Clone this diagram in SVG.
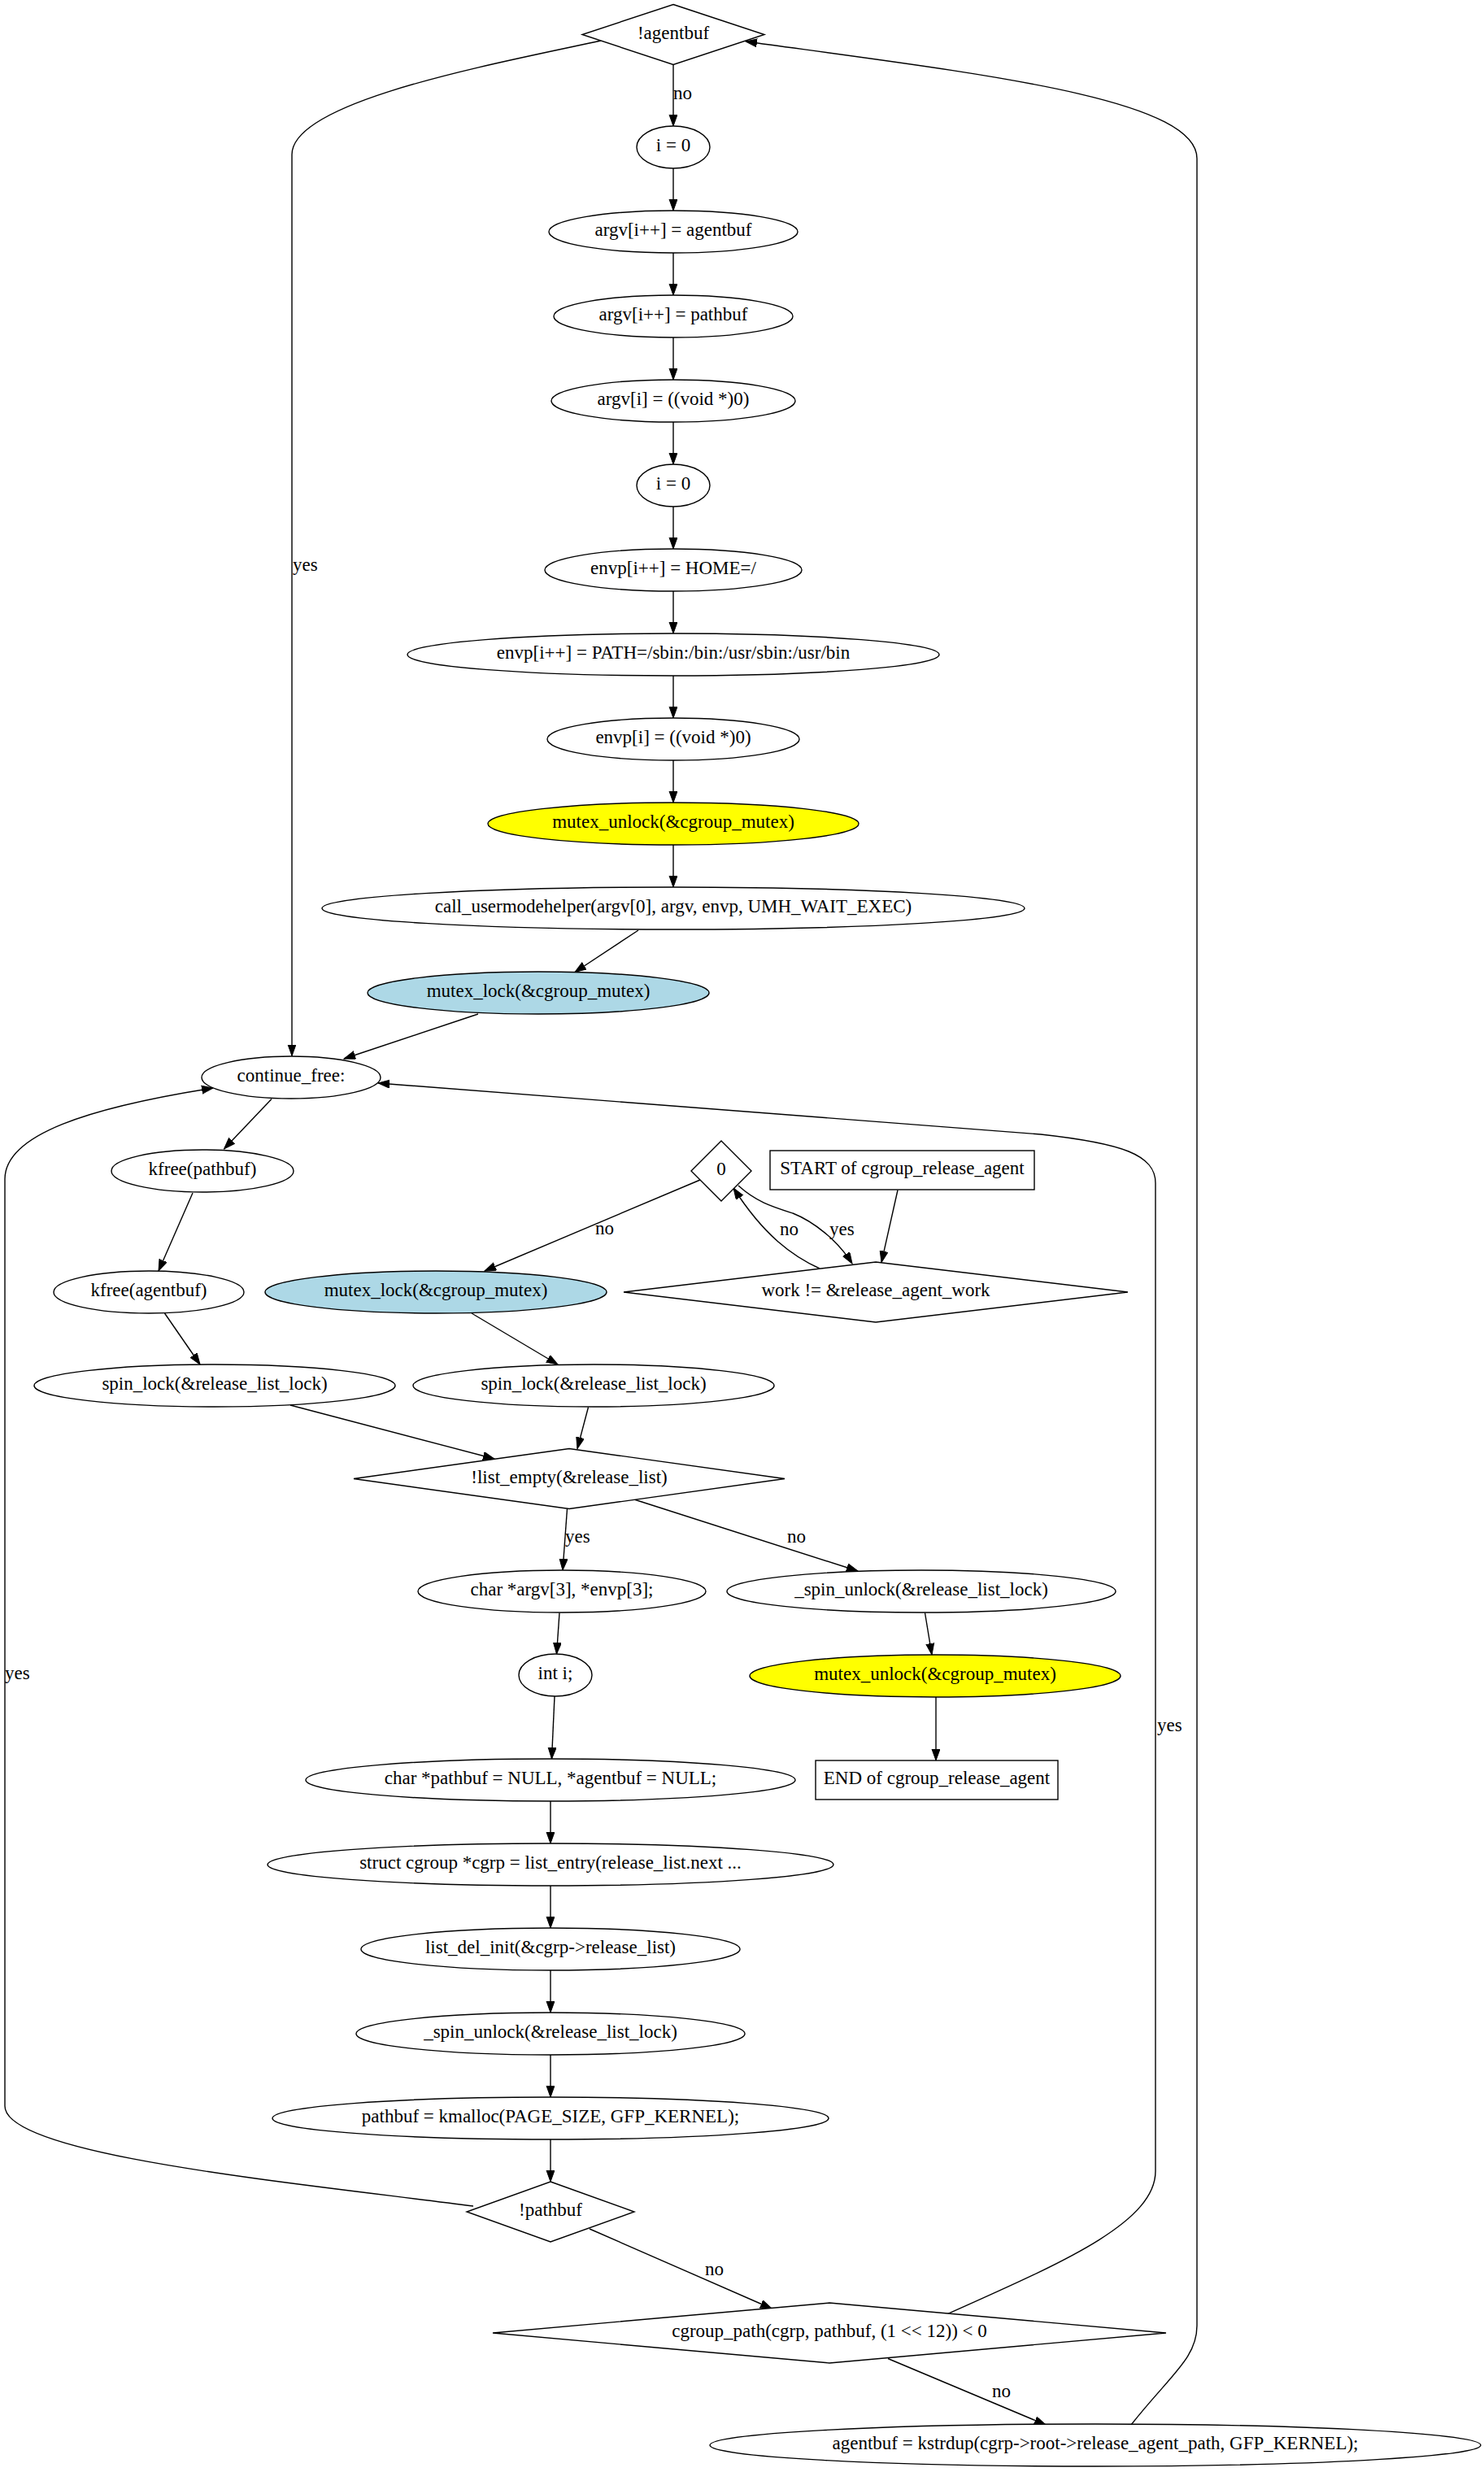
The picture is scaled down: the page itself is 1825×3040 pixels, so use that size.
<svg xmlns="http://www.w3.org/2000/svg" width="1825" height="3040" viewBox="0 0 1825 3040">
<style>
.n ellipse,.n polygon,.n rect{fill:#fff;stroke:#000;stroke-width:1.4}
.n .y{fill:#ffff00}
.n .b{fill:#add8e6}
text{font-family:"Liberation Serif","Times New Roman",serif;font-size:23px;fill:#000}
.n text{text-anchor:middle}
.e path{fill:none;stroke:#000;stroke-width:1.4;marker-end:url(#a)}
</style>
<defs>
<marker id="a" markerUnits="userSpaceOnUse" markerWidth="15" markerHeight="11" refX="14" refY="5" orient="auto">
<path d="M0,0 L14,5 L0,10 z" fill="#000" stroke="#000" stroke-width="1"/>
</marker>
</defs>
<rect width="1825" height="3040" fill="#fff"/>

<g id="edges" class="e">
<path d="M828,79.5 L828,155"/>
<path d="M828,207 L828,259"/>
<path d="M828,311 L828,363"/>
<path d="M828,415 L828,467"/>
<path d="M828,519 L828,571"/>
<path d="M828,623 L828,675"/>
<path d="M828,727 L828,779"/>
<path d="M828,831 L828,883"/>
<path d="M828,935 L828,987"/>
<path d="M828,1039 L828,1091"/>
<path d="M785,1144 L707,1195.5"/>
<path d="M588,1247 L423,1302"/>
<path d="M739,50 C600,80 359,125 359,190 L359,1298.5"/>
<path d="M334,1351.5 L275.5,1413"/>
<path d="M237,1467 L195,1563"/>
<path d="M202.5,1615 L246,1678"/>
<path d="M357,1728 L608,1794"/>
<path d="M861,1451 L596,1563"/>
<path d="M1104,1463.5 L1084,1552.5"/>
<path d="M908,1458 C930,1478 950,1484 975,1492 C1000,1502 1030,1525 1048,1554"/>
<path d="M1008,1560 C975,1545 940,1520 902,1461"/>
<path d="M580,1615 L686,1678"/>
<path d="M723.5,1730.5 L710,1781.5"/>
<path d="M697.5,1855.5 L692,1931"/>
<path d="M780,1844 L1055,1932"/>
<path d="M688,1983.5 L684.5,2034"/>
<path d="M1137.5,1983.5 L1146,2035"/>
<path d="M682,2086 L678.5,2163"/>
<path d="M1151,2087 L1151,2165"/>
<path d="M677,2215 L677,2267"/>
<path d="M677,2319 L677,2371"/>
<path d="M677,2423 L677,2475"/>
<path d="M677,2527 L677,2579"/>
<path d="M677,2631 L677,2683"/>
<path d="M725,2741 L949,2839"/>
<path d="M582,2713 C350,2683 6,2650 6,2590 L6,1450 C6,1395 110,1362 262,1338"/>
<path d="M1092,2900.5 L1286,2982"/>
<path d="M1160,2848 C1300,2785 1421,2735 1421,2670 L1421,1455 C1421,1420 1380,1406 1280,1395 L465,1332"/>
<path d="M1391,2982 C1440,2920 1472,2900 1472,2860 L1472,195 C1472,120 1200,90 917,51"/>
</g>

<g id="edge-labels">
<text x="828" y="122">no</text>
<text x="360" y="702">yes</text>
<text x="732" y="1518">no</text>
<text x="959" y="1519">no</text>
<text x="1020" y="1519">yes</text>
<text x="695" y="1897">yes</text>
<text x="968" y="1897">no</text>
<text x="1423" y="2129">yes</text>
<text x="6" y="2065">yes</text>
<text x="867" y="2798">no</text>
<text x="1220" y="2948">no</text>
</g>

<g id="n_agentbuf_check" class="n"><polygon points="828,5.5 940,42.5 828,79.5 716,42.5"/><text x="828" y="47.5">!agentbuf</text></g>
<g id="n_i0_a" class="n"><ellipse cx="828" cy="181" rx="45" ry="26"/><text x="828" y="186">i = 0</text></g>
<g id="n_argv_agentbuf" class="n"><ellipse cx="828" cy="285" rx="153" ry="26"/><text x="828" y="290">argv[i++] = agentbuf</text></g>
<g id="n_argv_pathbuf" class="n"><ellipse cx="828" cy="389" rx="147" ry="26"/><text x="828" y="394">argv[i++] = pathbuf</text></g>
<g id="n_argv_null" class="n"><ellipse cx="828" cy="493" rx="150" ry="26"/><text x="828" y="498">argv[i] = ((void *)0)</text></g>
<g id="n_i0_b" class="n"><ellipse cx="828" cy="597" rx="45" ry="26"/><text x="828" y="602">i = 0</text></g>
<g id="n_envp_home" class="n"><ellipse cx="828" cy="701" rx="158" ry="26"/><text x="828" y="706">envp[i++] = HOME=/</text></g>
<g id="n_envp_path" class="n"><ellipse cx="828" cy="805" rx="327" ry="26"/><text x="828" y="810">envp[i++] = PATH=/sbin:/bin:/usr/sbin:/usr/bin</text></g>
<g id="n_envp_null" class="n"><ellipse cx="828" cy="909" rx="155" ry="26"/><text x="828" y="914">envp[i] = ((void *)0)</text></g>
<g id="n_mutex_unlock_a" class="n"><ellipse class="y" cx="828" cy="1013" rx="228" ry="26"/><text x="828" y="1018">mutex_unlock(&amp;cgroup_mutex)</text></g>
<g id="n_call_umh" class="n"><ellipse cx="828" cy="1117" rx="432" ry="26"/><text x="828" y="1122">call_usermodehelper(argv[0], argv, envp, UMH_WAIT_EXEC)</text></g>
<g id="n_mutex_lock_a" class="n"><ellipse class="b" cx="662" cy="1221" rx="210" ry="26"/><text x="662" y="1226">mutex_lock(&amp;cgroup_mutex)</text></g>
<g id="n_continue_free" class="n"><ellipse cx="358" cy="1325" rx="110" ry="26"/><text x="358" y="1330">continue_free:</text></g>
<g id="n_kfree_pathbuf" class="n"><ellipse cx="249" cy="1440" rx="112" ry="26"/><text x="249" y="1445">kfree(pathbuf)</text></g>
<g id="n_kfree_agentbuf" class="n"><ellipse cx="183" cy="1589" rx="117" ry="26"/><text x="183" y="1594">kfree(agentbuf)</text></g>
<g id="n_spin_lock_a" class="n"><ellipse cx="264" cy="1704" rx="222" ry="26"/><text x="264" y="1709">spin_lock(&amp;release_list_lock)</text></g>
<g id="n_zero" class="n"><polygon points="887,1403 924,1440 887,1477 850,1440"/><text x="887" y="1445">0</text></g>
<g id="n_start" class="n"><rect x="947" y="1415" width="325" height="48"/><text x="1109.5" y="1444">START of cgroup_release_agent</text></g>
<g id="n_work_check" class="n"><polygon points="1077,1552 1387,1589 1077,1626 767,1589"/><text x="1077" y="1594">work != &amp;release_agent_work</text></g>
<g id="n_mutex_lock_b" class="n"><ellipse class="b" cx="536" cy="1589" rx="210" ry="26"/><text x="536" y="1594">mutex_lock(&amp;cgroup_mutex)</text></g>
<g id="n_spin_lock_b" class="n"><ellipse cx="730" cy="1704" rx="222" ry="26"/><text x="730" y="1709">spin_lock(&amp;release_list_lock)</text></g>
<g id="n_list_empty" class="n"><polygon points="700,1781.5 965,1818.5 700,1855.5 435,1818.5"/><text x="700" y="1823.5">!list_empty(&amp;release_list)</text></g>
<g id="n_decl_argv" class="n"><ellipse cx="691" cy="1957" rx="177" ry="26"/><text x="691" y="1962">char *argv[3], *envp[3];</text></g>
<g id="n_spin_unlock_b" class="n"><ellipse cx="1133" cy="1957" rx="239" ry="26"/><text x="1133" y="1962">_spin_unlock(&amp;release_list_lock)</text></g>
<g id="n_int_i" class="n"><ellipse cx="683" cy="2060" rx="45" ry="26"/><text x="683" y="2065">int i;</text></g>
<g id="n_mutex_unlock_b" class="n"><ellipse class="y" cx="1150" cy="2061" rx="228" ry="26"/><text x="1150" y="2066">mutex_unlock(&amp;cgroup_mutex)</text></g>
<g id="n_end" class="n"><rect x="1003" y="2165" width="298" height="48"/><text x="1152" y="2194">END of cgroup_release_agent</text></g>
<g id="n_decl_pathbuf" class="n"><ellipse cx="677" cy="2189" rx="301" ry="26"/><text x="677" y="2194">char *pathbuf = NULL, *agentbuf = NULL;</text></g>
<g id="n_cgrp" class="n"><ellipse cx="677" cy="2293" rx="348" ry="26"/><text x="677" y="2298">struct cgroup *cgrp = list_entry(release_list.next ...</text></g>
<g id="n_list_del" class="n"><ellipse cx="677" cy="2397" rx="233" ry="26"/><text x="677" y="2402">list_del_init(&amp;cgrp-&gt;release_list)</text></g>
<g id="n_spin_unlock_a" class="n"><ellipse cx="677" cy="2501" rx="239" ry="26"/><text x="677" y="2506">_spin_unlock(&amp;release_list_lock)</text></g>
<g id="n_kmalloc" class="n"><ellipse cx="677" cy="2605" rx="342" ry="26"/><text x="677" y="2610">pathbuf = kmalloc(PAGE_SIZE, GFP_KERNEL);</text></g>
<g id="n_pathbuf_check" class="n"><polygon points="677,2683 780,2720 677,2757 574,2720"/><text x="677" y="2725">!pathbuf</text></g>
<g id="n_cgroup_path" class="n"><polygon points="1020,2832 1434,2869 1020,2906 606,2869"/><text x="1020" y="2874">cgroup_path(cgrp, pathbuf, (1 &lt;&lt; 12)) &lt; 0</text></g>
<g id="n_kstrdup" class="n"><ellipse cx="1347" cy="3007" rx="474" ry="26"/><text x="1347" y="3012">agentbuf = kstrdup(cgrp-&gt;root-&gt;release_agent_path, GFP_KERNEL);</text></g>
</svg>
